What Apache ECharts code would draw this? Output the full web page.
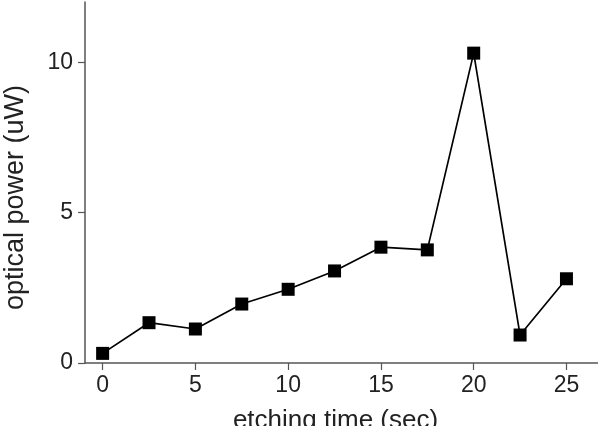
<!DOCTYPE html>
<html>
<head>
<meta charset="utf-8">
<script src="https://cdn.jsdelivr.net/npm/echarts@6/dist/echarts.min.js"></script>
<style>
  html, body { margin: 0; padding: 0; background: #fff; }
  #chart { width: 598px; height: 426px; }
</style>
</head>
<body>
<div id="chart"></div>
<script>
  // etching time (sec) vs optical power (uW)
  var etchTimes = [0, 2.5, 5, 7.5, 10, 12.5, 15, 17.5, 20, 22.5, 25];
  var powerValues = [0.32, 1.34, 1.13, 1.96, 2.45, 3.06, 3.85, 3.76, 10.3, 0.93, 2.8];
  var xTicks = [0, 5, 10, 15, 20, 25];
  var yTicks = [0, 5, 10];

  var axisColor = '#555';
  var textColor = '#222';
  var font = 'Liberation Sans, Arial, sans-serif';

  var points = etchTimes.map(function (t, i) { return [t, powerValues[i]]; });

  var myChart = echarts.init(document.getElementById('chart'));
  myChart.setOption({
    animation: false,
    grid: { left: 85, top: 2, right: 0, bottom: 63, containLabel: false, outerBoundsMode: 'none' },
    xAxis: {
      type: 'value',
      min: -0.95,
      max: 26.7,
      name: 'etching time (sec)',
      nameLocation: 'middle',
      nameGap: 45,
      // shift a bit left like the original
      nameTextStyle: { color: textColor, fontSize: 26, fontFamily: font, padding: [0, 12, 0, 0] },
      axisLine: { onZero: false, lineStyle: { color: axisColor, width: 1.5 } },
      axisTick: { customValues: xTicks, length: 7, lineStyle: { color: axisColor, width: 1.2 } },
      axisLabel: { customValues: xTicks, margin: 11, color: textColor, fontSize: 23, fontFamily: font },
      splitLine: { show: false }
    },
    yAxis: {
      type: 'value',
      min: 0,
      max: 12,
      name: 'optical power (uW)',
      nameLocation: 'middle',
      nameGap: 56,
      // label sits a little below the middle of the axis
      nameTextStyle: { color: textColor, fontSize: 27, fontFamily: font, padding: [0, 30, 0, 0] },
      axisLine: { show: true, onZero: false, lineStyle: { color: axisColor, width: 1.5 } },
      axisTick: { show: true, customValues: yTicks, length: 7, lineStyle: { color: axisColor, width: 1.2 } },
      axisLabel: { customValues: yTicks, margin: 12, color: textColor, fontSize: 23, fontFamily: font },
      splitLine: { show: false }
    },
    series: [
      {
        type: 'line',
        data: points,
        symbol: 'rect',
        symbolSize: 13,
        itemStyle: { color: '#000' },
        lineStyle: { color: '#000', width: 1.7 }
      }
    ]
  });
</script>
</body>
</html>
